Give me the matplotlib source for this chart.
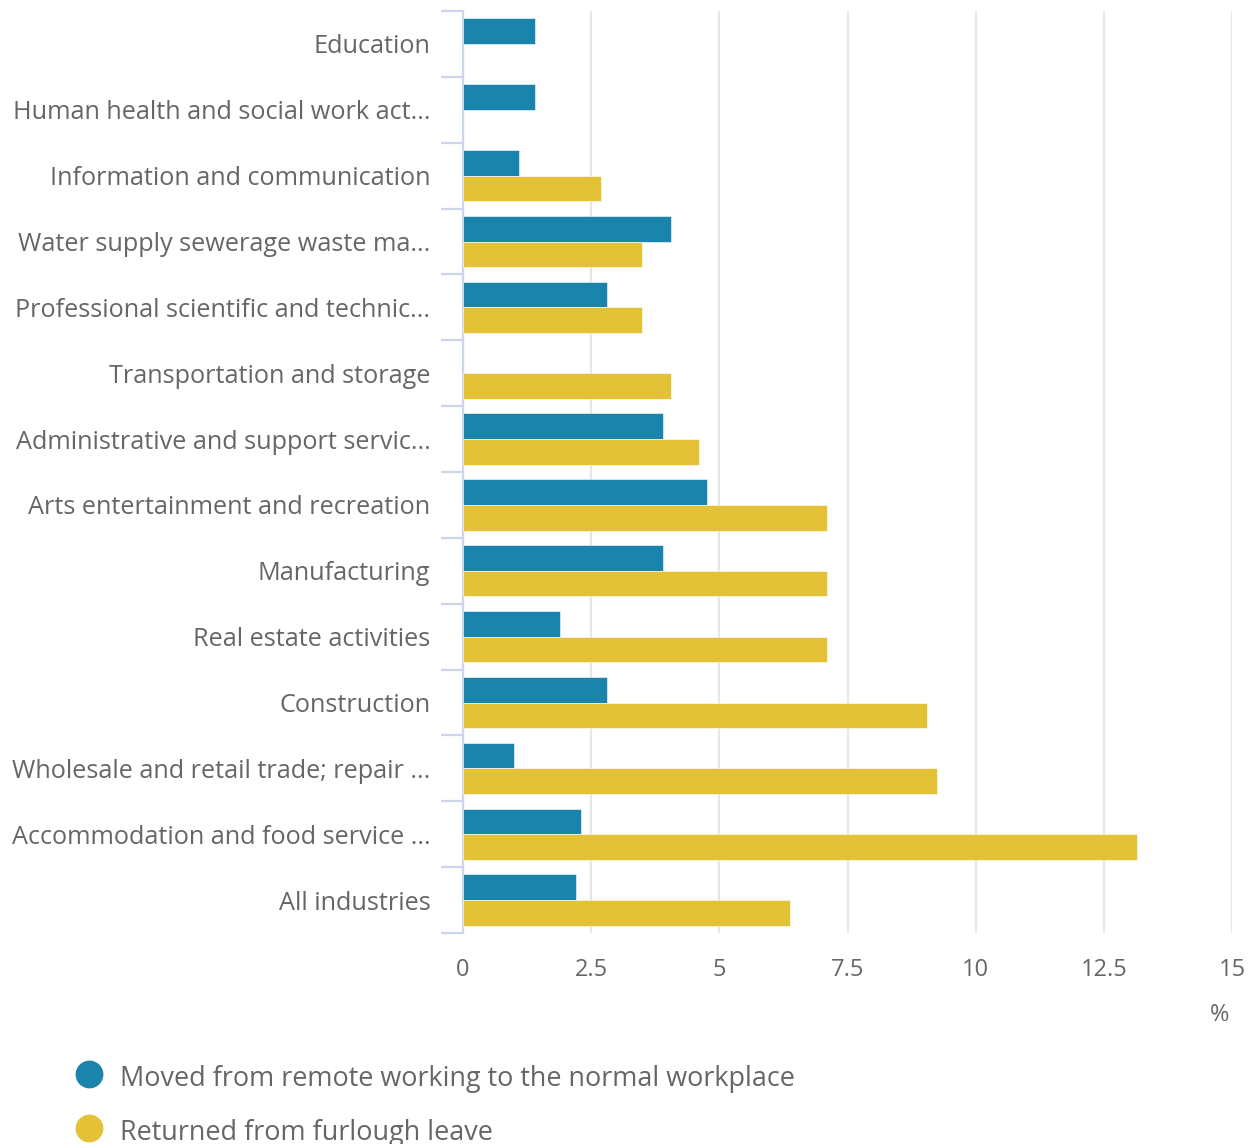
import matplotlib.pyplot as plt
from matplotlib.lines import Line2D
import numpy as np

plt.rcParams['font.family'] = ['Open Sans', 'DejaVu Sans']

# Industries, top to bottom
industries = [
    'Education',
    'Human health and social work act...',
    'Information and communication',
    'Water supply sewerage waste ma...',
    'Professional scientific and technic...',
    'Transportation and storage',
    'Administrative and support servic...',
    'Arts entertainment and recreation',
    'Manufacturing',
    'Real estate activities',
    'Construction',
    'Wholesale and retail trade; repair ...',
    'Accommodation and food service ...',
    'All industries',
]
series_names = ['Moved from remote working to the normal workplace',
                'Returned from furlough leave']
# nan = no bar shown
moved_remote = [1.4, 1.4, 1.1, 4.05, 2.8, np.nan, 3.9, 4.75, 3.9, 1.9, 2.8, 1.0, 2.3, 2.2]
returned_furlough = [np.nan, np.nan, 2.7, 3.5, 3.5, 4.05, 4.6, 7.1, 7.1, 7.1, 9.05, 9.25, 13.15, 6.37]
x_ticks = [0, 2.5, 5, 7.5, 10, 12.5, 15]
x_tick_labels = ['0', '2.5', '5', '7.5', '10', '12.5', '15']

colors = ['#1a84ac', '#e3c237']
text_color = '#666666'

fig = plt.figure(figsize=(12.55, 11.44), dpi=100)
ax = fig.add_axes([463 / 1255, 1 - 933 / 1144, (1232 - 463) / 1255, (933 - 11) / 1144])

y = np.arange(len(industries))
h = 0.39
ax.barh(y - h / 2, moved_remote, height=h, color=colors[0],
        edgecolor='white', linewidth=0.4, zorder=3)
ax.barh(y + h / 2, returned_furlough, height=h, color=colors[1],
        edgecolor='white', linewidth=0.4, zorder=3)

ax.set_xlim(0, 15)
ax.set_ylim(len(industries) - 0.5, -0.5)

# x axis
ax.set_xticks(x_ticks)
ax.set_xticklabels(x_tick_labels)
ax.tick_params(axis='x', length=0, pad=18, labelsize=17, labelcolor=text_color)
ax.grid(axis='x', color='#e6e6e6', linewidth=1.6, zorder=0)

# y axis: boundary ticks and centred labels
ax.set_yticks(np.arange(len(industries) + 1) - 0.5)
ax.set_yticklabels([])
ax.tick_params(axis='y', which='major', length=16, width=1.6, color='#ccd6eb')
ax.set_yticks(y, minor=True)
ax.set_yticklabels(industries, minor=True)
ax.tick_params(axis='y', which='minor', length=0, pad=23.5, labelsize=18.15,
               labelcolor=text_color)

for side in ['top', 'right', 'bottom']:
    ax.spines[side].set_visible(False)
ax.spines['left'].set_color('#ccd6eb')
ax.spines['left'].set_linewidth(1.6)

fig.text(1220 / 1255, 1 - 1015 / 1144, '%', ha='center', va='center',
         fontsize=17, color=text_color)

# legend
for i, (name, c) in enumerate(zip(series_names, colors)):
    yy = 1 - (1074 + i * 54) / 1144
    fig.add_artist(Line2D([89 / 1255], [yy], transform=fig.transFigure,
                          marker='o', markersize=19, color=c, linestyle='none'))
    fig.text(120 / 1255, yy - 5 / 1144, name, ha='left', va='center',
             fontsize=19.45, color=text_color)

fig.savefig('out.png', dpi=100)
